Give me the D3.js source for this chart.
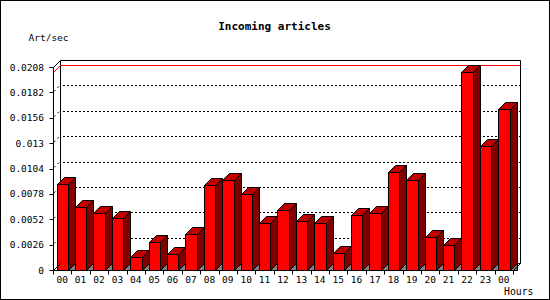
<!DOCTYPE html>
<html><head><meta charset="utf-8">
<script src="https://cdn.jsdelivr.net/npm/d3@7"></script>
<style>body{margin:0;background:#fff}svg{display:block}</style>
</head><body>
<script>
const hours = ["00","01","02","03","04","05","06","07","08","09","10","11","12","13","14","15","16","17","18","19","20","21","22","23","00"];
const values = [0.00878,0.00642,0.00581,0.0053,0.00137,0.00283,0.00167,0.00365,0.00867,0.00919,0.00779,0.00478,0.00611,0.00499,0.00478,0.00171,0.0056,0.00581,0.01001,0.00919,0.00335,0.00253,0.02026,0.01274,0.01646];
const yTicks = [0,0.0026,0.0052,0.0078,0.0104,0.013,0.0156,0.0182,0.0208];
const yTickLabels = ["0","0.0026","0.0052","0.0078","0.0104","0.013","0.0156","0.0182","0.0208"];
const title = "Incoming articles";
const yTitle = "Art/sec";
const xTitle = "Hours";

const W = 550, H = 300, D = 7;
const svg = d3.select("body").append("svg").attr("width", W).attr("height", H);
svg.append("rect").attr("x",0.5).attr("y",0.5).attr("width",W-1).attr("height",H-1).attr("fill","#fff").attr("stroke","#000");

const x = d3.scaleBand().domain(d3.range(values.length)).range([53, 513]).padding(0);
const y = d3.scaleLinear().domain([0, 0.0208]).range([270, 67]);
const font = "'DejaVu Sans Mono', monospace";
const p = v => Math.round(v) + 0.5;

// back wall frame
const g = svg.append("g").attr("fill","none").attr("stroke","#000");
const x0 = 53, x1 = 513, yb = y(0), yt = y(0.0208);
// dotted gridlines on back wall
yTicks.slice(1, -1).forEach(t => {
  g.append("line").attr("x1", x0 + D + 3).attr("x2", x1 + D).attr("y1", p(y(t) - D)).attr("y2", p(y(t) - D))
    .attr("stroke-dasharray", "2,2");
  g.append("line").attr("x1", x0 + 1).attr("y1", y(t) - 1).attr("x2", x0 + D).attr("y2", y(t) - D)
    .attr("stroke-dasharray", "2,3");
});
// frame lines
g.append("path").attr("d", `M${p(x0+D)},${p(yb-D)}V${p(yt-D)}H${p(x1+D)}V${p(yb-D)}H${p(x0+D)}`);
g.append("line").attr("x1", p(x0)).attr("y1", p(yt)).attr("x2", p(x0+D)).attr("y2", p(yt-D));
// max value red line
const vmax = d3.max(values);
svg.append("path").attr("fill","none").attr("stroke","#ff0000")
  .attr("d", `M${p(x0)},${p(y(vmax))}L${p(x0+D)},${p(y(vmax)-D)}H${p(x1+D)}`);

// bars
const fw = x.bandwidth() * 0.62, off = x.bandwidth() * 0.2;
const bars = svg.append("g").attr("stroke","#000").attr("stroke-width",1).attr("stroke-linejoin","miter");
values.forEach((v, i) => {
  const l = Math.round(x(i) + off) + 0.5, r = Math.round(x(i) + off + fw) + 0.5;
  const b = p(y(0)), t = p(y(v));
  // floor shadow triangle
  bars.append("path").attr("fill","#808080").attr("d", `M${r},${b}L${r+D},${b-D}V${b}Z`);
  // side
  bars.append("path").attr("fill","#800000").attr("d", `M${r},${b}L${r+D},${b-D}V${t-D}L${r},${t}Z`);
  // top
  bars.append("path").attr("fill","#c00000").attr("d", `M${l},${t}L${l+D},${t-D}H${r+D}L${r},${t}Z`);
  // front
  bars.append("rect").attr("fill","#ff0000").attr("x", l).attr("y", t).attr("width", r - l).attr("height", b - t);
});

// front axes
const ax = svg.append("g").attr("stroke","#000").attr("fill","none");
ax.append("line").attr("x1", p(x0)).attr("x2", p(x0)).attr("y1", p(yt)).attr("y2", p(yb));
ax.append("line").attr("x1", p(x0)).attr("x2", p(x1)).attr("y1", p(yb)).attr("y2", p(yb));
ax.append("line").attr("x1", p(x0)).attr("y1", p(yb)).attr("x2", p(x0+D)).attr("y2", p(yb-D));
ax.append("line").attr("x1", p(x1)).attr("y1", p(yb)).attr("x2", p(x1+D)).attr("y2", p(yb-D));
yTicks.forEach(t => ax.append("line").attr("x1", p(x0-4)).attr("x2", p(x0)).attr("y1", p(y(t))).attr("y2", p(y(t))));
d3.range(values.length + 1).forEach(i => {
  const xx = i < values.length ? x(i) : x1;
  ax.append("line").attr("x1", p(xx)).attr("x2", p(xx)).attr("y1", p(yb)).attr("y2", p(yb + 4));
});

// labels
const txt = svg.append("g").attr("font-family", font).attr("fill","#000");
yTicks.forEach((t, i) => txt.append("text").attr("x", 44).attr("y", y(t) + 3.5)
  .attr("text-anchor","end").attr("font-size","9.5px").text(yTickLabels[i]));
hours.forEach((h, i) => txt.append("text").attr("x", x(i) + x.bandwidth()/2).attr("y", 283)
  .attr("text-anchor","middle").attr("font-size","9.5px").text(h));
txt.append("text").attr("x", 274.5).attr("y", 30).attr("text-anchor","middle")
  .attr("font-size","11px").attr("font-weight","bold").text(title);
txt.append("text").attr("x", 28.5).attr("y", 40.5).attr("font-size","9.5px").text(yTitle);
txt.append("text").attr("x", 504).attr("y", 295).attr("font-size","9.8px").text(xTitle);
</script>
</body></html>
